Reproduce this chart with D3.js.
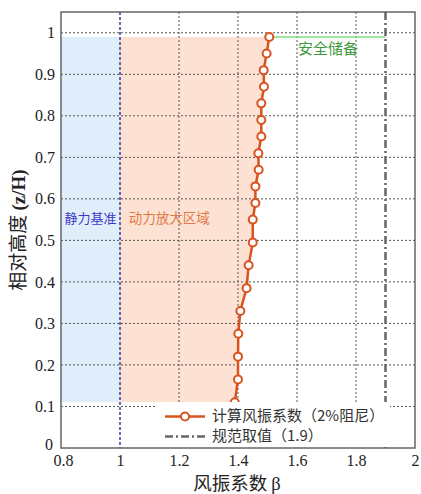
<!DOCTYPE html>
<html>
<head>
<meta charset="utf-8">
<script src="https://cdn.jsdelivr.net/npm/d3@7"></script>
<style>
  html, body { margin: 0; padding: 0; background: #fff; }
  svg { display: block; }
</style>
</head>
<body>
<svg id="chart" width="421" height="494"></svg>
<script>
// Wind vibration coefficient along relative height
const heights = [0.99, 0.95, 0.91, 0.87, 0.83, 0.79, 0.75, 0.71, 0.67, 0.63,
                 0.59, 0.55, 0.495, 0.44, 0.385, 0.33, 0.275, 0.22, 0.165, 0.11];
const betas   = [1.506, 1.497, 1.487, 1.488, 1.479, 1.479, 1.479, 1.469, 1.470, 1.459,
                 1.459, 1.450, 1.450, 1.436, 1.429, 1.408, 1.401, 1.400, 1.400, 1.389];
const staticBase = 1.0;
const codeValue = 1.9;
const xTicks = [0.8, 1, 1.2, 1.4, 1.6, 1.8, 2];
const yTicks = [0, 0.1, 0.2, 0.3, 0.4, 0.5, 0.6, 0.7, 0.8, 0.9, 1];
const legendLabels = ["计算风振系数（2%阻尼）", "规范取值（1.9）"];

const pts = heights.map((z, i) => ({ z, b: betas[i] }));
const zTop = d3.max(heights), zBot = d3.min(heights);

const svg = d3.select("#chart");
const m = { left: 61, right: 415, top: 12, bottom: 448 };
const x = d3.scaleLinear().domain([0.8, 2]).range([m.left, m.right]);
const y = d3.scaleLinear().domain([0, 1.05]).range([m.bottom, m.top]);

const serif = "'Liberation Serif', 'Times New Roman', serif";
const cjk = "'Noto Sans CJK SC', sans-serif";
const lineColor = "#d9531e";

// Shaded zones: static baseline and dynamic amplification
svg.append("rect")
  .attr("x", x(0.8)).attr("y", y(zTop))
  .attr("width", x(staticBase) - x(0.8)).attr("height", y(zBot) - y(zTop))
  .attr("fill", "#e0eefc");

const area = d3.area()
  .y(d => y(d.z))
  .x0(x(staticBase))
  .x1(d => x(d.b));
svg.append("path").datum(pts).attr("d", area).attr("fill", "#fde2d4");

// Grid
const grid = svg.append("g").attr("stroke", "#555").attr("stroke-width", 1)
  .attr("stroke-dasharray", "2,2");
xTicks.filter(v => v > 0.8 && v < 2 && v !== 1).forEach(v => {
  grid.append("line").attr("x1", x(v)).attr("x2", x(v)).attr("y1", m.top).attr("y2", m.bottom);
});
yTicks.filter(v => v > 0).forEach(v => {
  grid.append("line").attr("x1", m.left).attr("x2", m.right).attr("y1", y(v)).attr("y2", y(v));
});

// Static baseline at beta = 1
svg.append("line")
  .attr("x1", x(staticBase)).attr("x2", x(staticBase))
  .attr("y1", m.top).attr("y2", m.bottom)
  .attr("stroke", "#3a3a9a").attr("stroke-width", 1.5).attr("stroke-dasharray", "3,2");

// Code value line
svg.append("line")
  .attr("x1", x(codeValue)).attr("x2", x(codeValue))
  .attr("y1", m.top).attr("y2", m.bottom)
  .attr("stroke", "#666").attr("stroke-width", 2.5).attr("stroke-dasharray", "8,3,2,3");

// Safety margin at the top
svg.append("line")
  .attr("x1", x(betas[0])).attr("x2", x(codeValue))
  .attr("y1", y(heights[0])).attr("y2", y(heights[0]))
  .attr("stroke", "#7ee07e").attr("stroke-width", 1.5);
svg.append("text")
  .attr("x", x(1.705)).attr("y", y(0.958))
  .attr("text-anchor", "middle").attr("dominant-baseline", "middle")
  .attr("font-family", cjk).attr("font-size", 15).attr("fill", "#3c9a3c")
  .text("安全储备");

// Zone labels
svg.append("text")
  .attr("x", x(0.9)).attr("y", y(0.55))
  .attr("text-anchor", "middle").attr("dominant-baseline", "middle")
  .attr("font-family", cjk).attr("font-size", 13).attr("fill", "#3b3bc8")
  .text("静力基准");
svg.append("text")
  .attr("x", x(1.03)).attr("y", y(0.55))
  .attr("dominant-baseline", "middle")
  .attr("font-family", cjk).attr("font-size", 13.5).attr("fill", "#e07a48")
  .text("动力放大区域");

// Data curve
const line = d3.line().x(d => x(d.b)).y(d => y(d.z));
svg.append("path").datum(pts).attr("d", line)
  .attr("fill", "none").attr("stroke", lineColor).attr("stroke-width", 2.5);
svg.append("g").selectAll("circle").data(pts).join("circle")
  .attr("cx", d => x(d.b)).attr("cy", d => y(d.z)).attr("r", 4)
  .attr("fill", "#fff").attr("stroke", lineColor).attr("stroke-width", 2);

// Legend
const lg = svg.append("g");
lg.append("rect").attr("x", 157).attr("y", 402).attr("width", 233).attr("height", 45).attr("fill", "#fff");
lg.append("line").attr("x1", 165).attr("x2", 205).attr("y1", 416.5).attr("y2", 416.5)
  .attr("stroke", lineColor).attr("stroke-width", 2.5);
lg.append("circle").attr("cx", 185).attr("cy", 416.5).attr("r", 4)
  .attr("fill", "#fff").attr("stroke", lineColor).attr("stroke-width", 2);
lg.append("line").attr("x1", 165).attr("x2", 205).attr("y1", 436.5).attr("y2", 436.5)
  .attr("stroke", "#666").attr("stroke-width", 2.5).attr("stroke-dasharray", "8,3,2,3");
legendLabels.forEach((t, i) => {
  lg.append("text").attr("x", 212).attr("y", 416.5 + i * 20)
    .attr("dominant-baseline", "middle")
    .attr("font-family", cjk).attr("font-size", 15).attr("fill", "#333")
    .text(t);
});

// Axes
const xAxis = d3.axisBottom(x).tickValues(xTicks).tickFormat(d3.format("~g")).tickSize(0).tickPadding(7);
const yAxis = d3.axisLeft(y).tickValues(yTicks).tickFormat(d3.format("~g")).tickSize(0).tickPadding(6);
const gx = svg.append("g").attr("transform", `translate(0,${m.bottom})`).call(xAxis);
const gy = svg.append("g").attr("transform", `translate(${m.left},0)`).call(yAxis);
[gx, gy].forEach(g => {
  g.select(".domain").remove();
  g.selectAll("text").attr("font-family", serif).attr("font-size", 16).attr("fill", "#222");
});
// keep the two corner labels apart
gx.selectAll(".tick").filter(d => d === 0.8).select("text").attr("dx", 2);
gy.selectAll(".tick").filter(d => d === 0).select("text").attr("x", -8).attr("dy", "0.1em");

// Plot frame
svg.append("rect")
  .attr("x", m.left).attr("y", m.top)
  .attr("width", m.right - m.left).attr("height", m.bottom - m.top)
  .attr("fill", "none").attr("stroke", "#666").attr("stroke-width", 1.5);

// Axis titles
const xt = svg.append("text")
  .attr("x", (m.left + m.right) / 2 - 1).attr("y", 490)
  .attr("text-anchor", "middle").attr("fill", "#222").attr("font-size", 18.5);
xt.append("tspan").attr("font-family", cjk).text("风振系数 ");
xt.append("tspan").attr("font-family", serif).text("β");

const yt = svg.append("text")
  .attr("transform", `translate(25,${(m.top + m.bottom) / 2}) rotate(-90)`)
  .attr("text-anchor", "middle").attr("fill", "#222").attr("font-size", 19);
yt.append("tspan").attr("font-family", cjk).text("相对高度 ");
yt.append("tspan").attr("font-family", serif).attr("font-weight", "bold").text("(z/H)");
</script>
</body>
</html>
